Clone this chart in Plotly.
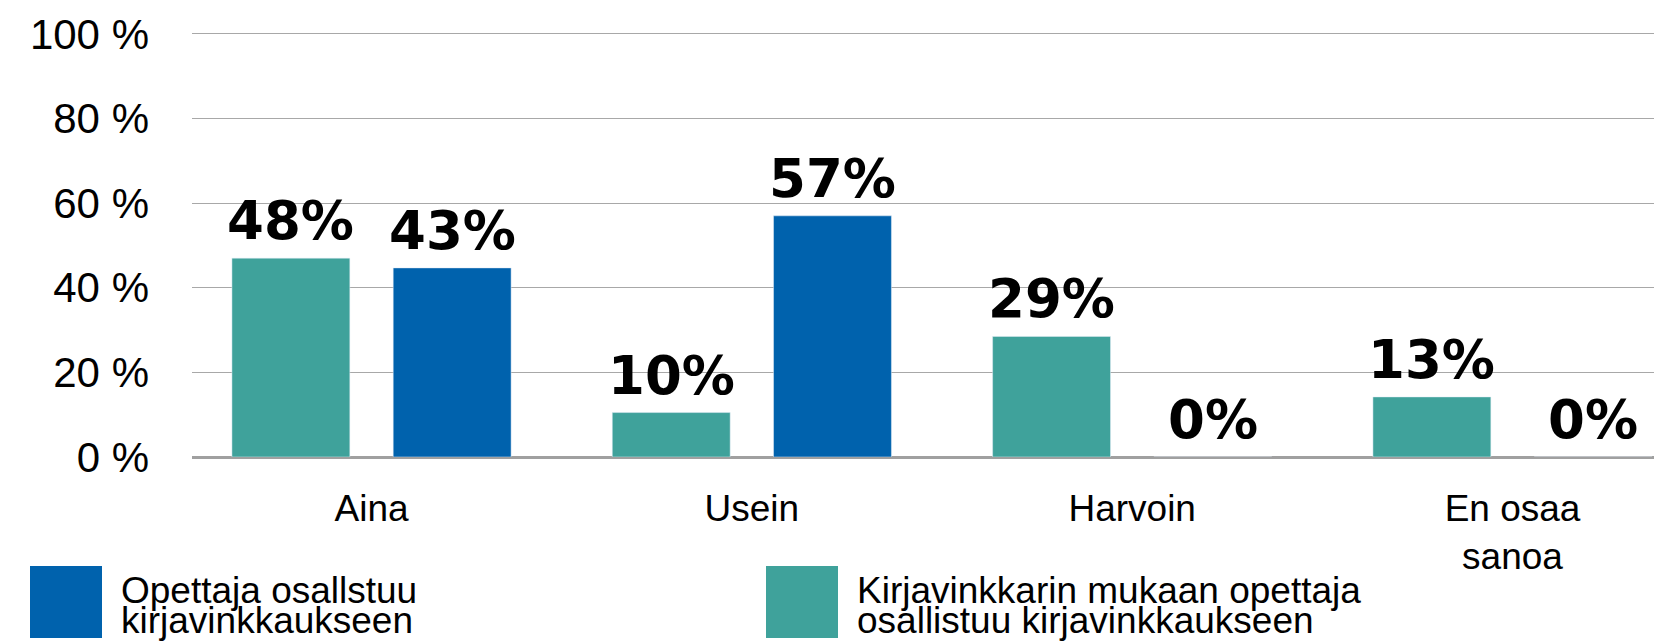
import plotly.graph_objects as go

# ---------------- data ----------------
categories = ["Aina", "Usein", "Harvoin", "En osaa<br>sanoa"]
series_names = ["Opettaja osallstuu<br>kirjavinkkaukseen",
                "Kirjavinkkarin mukaan opettaja<br>osallistuu kirjavinkkaukseen"]
teacher_values = [44.7, 57.0, 0.0, 0.0]          # blue bars (bar heights)
teacher_labels = ["43%", "57%", "0%", "0%"]
librarian_values = [47.0, 10.5, 28.5, 14.2]       # teal bars
librarian_labels = ["48%", "10%", "29%", "13%"]
y_ticks = [0, 20, 40, 60, 80, 100]
y_tick_labels = ["0 %", "20 %", "40 %", "60 %", "80 %", "100 %"]

# ---------------- style ----------------
BLUE = "#0062AD"
TEAL = "#3FA29B"
W, H = 1654, 642
L, R, T, B = 192, 0, 32, 185
Y_MAX = 100.45
BAR_W = 0.31
HALF = 0.212
TICK_FONT = "Liberation Sans, Arial, Helvetica, sans-serif"
LABEL_FONT = "DejaVu Sans, Arial Black, sans-serif"

idx = list(range(len(categories)))

fig = go.Figure()
fig.add_trace(go.Bar(x=idx, y=librarian_values, name=series_names[1],
                     marker_color=TEAL, width=BAR_W, offset=-HALF - BAR_W / 2,
                     showlegend=False))
fig.add_trace(go.Bar(x=idx, y=teacher_values, name=series_names[0],
                     marker_color=BLUE, width=BAR_W, offset=HALF - BAR_W / 2,
                     showlegend=False))

# data labels
for vals, labs, sgn in [(librarian_values, librarian_labels, -1),
                        (teacher_values, teacher_labels, 1)]:
    for i, (v, t) in enumerate(zip(vals, labs)):
        fig.add_annotation(x=i + sgn * HALF, y=v, xref="x", yref="y", text=t,
                           showarrow=False, yanchor="bottom", yshift=5,
                           font=dict(family=LABEL_FONT, size=53, color="black",
                                     weight="bold"))

# custom legend (large square swatches)
pw, ph = W - L - R, H - T - B
def px_x(x):
    return (x - L) / pw
def px_y(y):
    return (H - B - y) / ph

legend_items = [(series_names[0], BLUE, 30), (series_names[1], TEAL, 766)]
for name, col, x0 in legend_items:
    fig.add_shape(type="rect", xref="paper", yref="paper",
                  x0=px_x(x0), x1=px_x(x0 + 72), y0=px_y(638), y1=px_y(566),
                  fillcolor=col, line_width=0, layer="above")
    for k, line in enumerate(name.split("<br>")):
        fig.add_annotation(xref="paper", yref="paper", x=px_x(x0 + 90),
                           y=px_y(590 + 30 * k), text=line, showarrow=False,
                           xanchor="left", yanchor="middle", borderpad=0,
                           font=dict(family=TICK_FONT, size=37, color="black"))

fig.update_layout(
    width=W, height=H,
    margin=dict(l=L, r=R, t=T, b=B, pad=0),
    plot_bgcolor="white", paper_bgcolor="white",
    barmode="overlay",
    showlegend=False,
    xaxis=dict(range=[-0.472, 3.372], tickmode="array", tickvals=idx,
               ticktext=categories, showgrid=False, zeroline=False,
               showline=False, ticks="", ticklabelstandoff=26,
               tickfont=dict(family=TICK_FONT, size=37, color="black")),
    yaxis=dict(range=[0, Y_MAX], tickmode="array", tickvals=y_ticks,
               ticktext=y_tick_labels, showgrid=True, gridcolor="#A8A8A8",
               gridwidth=1.3, zeroline=True, zerolinecolor="#A0A0A0",
               zerolinewidth=3, showline=False, ticks="", ticklabelstandoff=42,
               tickfont=dict(family=TICK_FONT, size=42, color="black")),
)

fig.write_html("out.html", config={"displayModeBar": False},
               post_script="document.body.style.margin='0';document.body.style.overflow='hidden';")
